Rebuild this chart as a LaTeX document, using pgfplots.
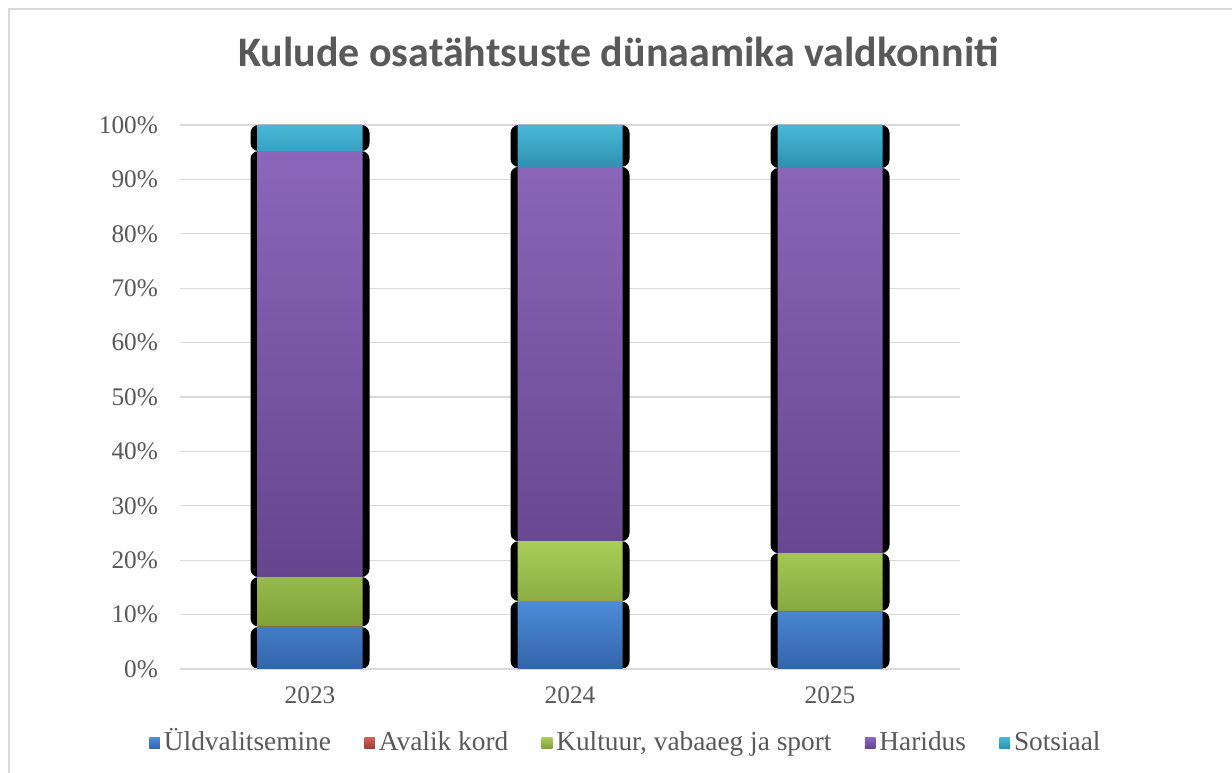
\documentclass[border=0pt]{standalone}
\usepackage{pgfplots}
\pgfplotsset{compat=1.18}
\usepackage{pgfplotstable}
\usepackage{fontspec}
\setmainfont{Liberation Serif}
\newfontfamily\titlefont{Carlito}
\definecolor{txt}{HTML}{595959}
\definecolor{gridc}{HTML}{D9D9D9}
\definecolor{bT}{HTML}{4D8CDA}\definecolor{bB}{HTML}{3464A8}
\definecolor{rT}{HTML}{D0605C}\definecolor{rB}{HTML}{A33C3A}
\definecolor{gT}{HTML}{AACD58}\definecolor{gB}{HTML}{80A03A}
\definecolor{pT}{HTML}{8B66BA}\definecolor{pB}{HTML}{65468D}
\definecolor{cT}{HTML}{48B8D8}\definecolor{cB}{HTML}{2E90B0}

\pgfplotstableread{
x u a k h s
0 7.7 0.1 9.1 78.3 4.8
1 12.4 0.1 11.0 68.8 7.7
2 10.6 0.1 10.6 70.8 7.9
}\data

\pgfplotsset{
  base/.style={
    at={(135pt,78pt)}, anchor=south west, scale only axis,
    width=585pt, height=408pt,
    xmin=-0.5, xmax=2.5, ymin=0, ymax=100,
    ytick={0,10,...,100}, xtick={0,1,2},
    major tick length=0pt, axis line style={draw=none},
    clip=false,
  }
}

\begin{document}
\begin{tikzpicture}
\path[use as bounding box] (0pt,0pt) rectangle (924pt,579.75pt);
\fill[white] (0pt,0pt) rectangle (924pt,579.75pt);
\draw[gridc, line width=1.1pt] (6.75pt,0pt) -- (6.75pt,573pt) -- (924pt,573pt);
\node[anchor=base, text=txt, font=\titlefont\bfseries\fontsize{31.5}{31.5}\selectfont] at (463.8pt,529.5pt) {Kulude osatähtsuste dünaamika valdkonniti};

% shadows + grid
\begin{axis}[base,
  ymajorgrids, grid style={gridc, line width=0.9pt},
  yticklabels={}, xticklabels={},
  ybar stacked, bar width=89.25pt,
]
\addplot[fill=black, draw=none, rounded corners=6pt] table[x=x,y=u]{\data};
\addplot[fill=none, draw=none] table[x=x,y=a]{\data};
\addplot[fill=black, draw=none, rounded corners=6pt] table[x=x,y=k]{\data};
\addplot[fill=black, draw=none, rounded corners=6pt] table[x=x,y=h]{\data};
\addplot[fill=black, draw=none, rounded corners=6pt] table[x=x,y=s]{\data};
\end{axis}

\begin{axis}[base,
  ybar stacked, bar width=78.75pt,
  xticklabels={2023,2024,2025},
  yticklabel={\pgfmathprintnumber{\tick}\%},
  /pgf/number format/assume math mode=true,
  tick label style={font=\fontsize{19}{19}\selectfont, text=txt},
  yticklabel style={xshift=-13pt},
  xticklabel style={yshift=-10pt},
  legend columns=-1,
  legend style={draw=none, fill=none, at={(0.573,-0.136)}, anchor=center,
    font=\fontsize{20.5}{20.5}\selectfont, text=txt,
    nodes={text height=15pt, text depth=4pt, inner xsep=3pt},
    /tikz/every even column/.append style={column sep=22pt},
    /tikz/every odd column/.append style={column sep=0pt}},
  legend image code/.code={\fill[#1] (0pt,-4pt) rectangle (8pt,4pt);},
]
\addplot[top color=bT, bottom color=bB, draw=none] table[x=x,y=u]{\data};
\addplot[top color=rT, bottom color=rB, draw=none] table[x=x,y=a]{\data};
\addplot[top color=gT, bottom color=gB, draw=none] table[x=x,y=k]{\data};
\addplot[top color=pT, bottom color=pB, draw=none] table[x=x,y=h]{\data};
\addplot[top color=cT, bottom color=cB, draw=none] table[x=x,y=s]{\data};
\draw[gridc, line width=0.9pt] (axis cs:-0.5,0) -- (axis cs:2.5,0);
\legend{Üldvalitsemine, Avalik kord, {Kultuur, vabaaeg ja sport}, Haridus, Sotsiaal}
\end{axis}
\end{tikzpicture}
\end{document}
